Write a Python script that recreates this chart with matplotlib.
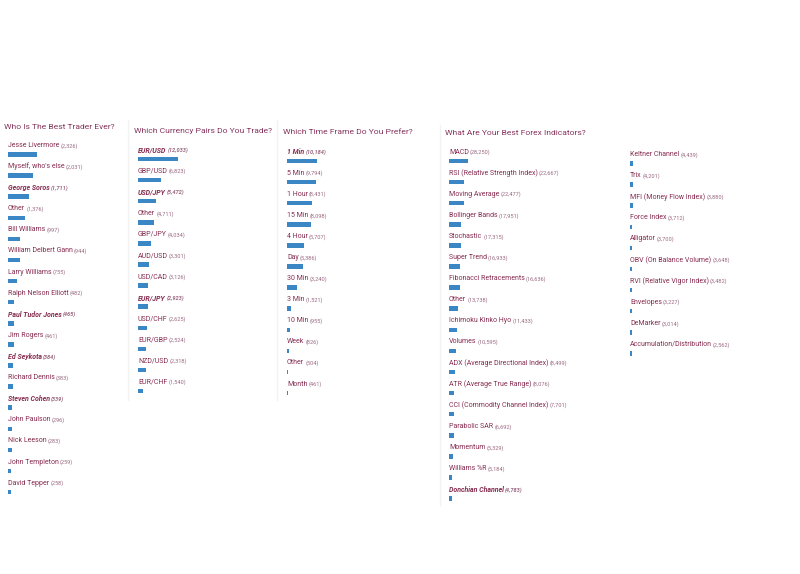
import matplotlib.pyplot as plt

plt.rcParams['font.family'] = ['Roboto', 'DejaVu Sans']

# poll data
trader_names = ["Jesse Livermore", "Myself, who's else", "George Soros", "Other",
                "Bill Williams", "William Delbert Gann", "Larry Williams",
                "Ralph Nelson Elliott", "Paul Tudor Jones", "Jim Rogers", "Ed Seykota",
                "Richard Dennis", "Steven Cohen", "John Paulson", "Nick Leeson",
                "John Templeton", "David Tepper"]
trader_votes = [2326, 2031, 1711, 1376, 997, 944, 755, 482, 465, 461, 384, 383,
                339, 296, 283, 259, 258]
trader_bold = ["George Soros", "Paul Tudor Jones", "Ed Seykota", "Steven Cohen"]

pair_names = ["EUR/USD", "GBP/USD", "USD/JPY", "Other", "GBP/JPY", "AUD/USD",
              "USD/CAD", "EUR/JPY", "USD/CHF", "EUR/GBP", "NZD/USD", "EUR/CHF"]
pair_votes = [12033, 6823, 5472, 4711, 4034, 3301, 3126, 2923, 2625, 2524, 2318, 1540]
pair_bold = ["EUR/USD", "USD/JPY", "EUR/JPY"]

tf_names = ["1 Min", "5 Min", "1 Hour", "15 Min", "4 Hour", "Day", "30 Min",
            "3 Min", "10 Min", "Week", "Other", "Month"]
tf_votes = [10184, 9794, 8431, 8098, 5707, 5386, 3240, 1521, 955, 826, 504, 461]
tf_bold = ["1 Min"]

ind_names = ["MACD", "RSI (Relative Strength Index)", "Moving Average",
             "Bollinger Bands", "Stochastic", "Super Trend", "Fibonacci Retracements",
             "Other", "Ichimoku Kinko Hyo", "Volumes", "ADX (Average Directional Index)",
             "ATR (Average True Range)", "CCI (Commodity Channel Index)",
             "Parabolic SAR", "Momentum", "Williams %R", "Donchian Channel",
             "Keltner Channel", "Trix", "MFI (Money Flow Index)", "Force Index",
             "Alligator", "OBV (On Balance Volume)", "RVI (Relative Vigor Index)",
             "Envelopes", "DeMarker", "Accumulation/Distribution"]
ind_votes = [28250, 22667, 22477, 17951, 17315, 16933, 16636, 13738, 11433, 10595,
             8499, 8076, 7701, 6692, 5329, 5184, 4783, 4439, 4201, 3880, 3712, 3700,
             3648, 3482, 3227, 3014, 2562]
ind_bold = ["Donchian Channel"]

TITLE_C = '#86365e'
LABEL_C = '#862d50'
COUNT_C = '#9a6a82'
BAR_C = '#3b87c5'

fig = plt.figure(figsize=(8, 5.74), dpi=100)
ax = fig.add_axes([0, 0, 1, 1])
ax.set_xlim(0, 800)
ax.set_ylim(574, 0)
ax.axis('off')


def poll(names, votes, bold, x, y0, px_per_vote, step=21.1):
    ys = [y0 + i * step for i in range(len(names))]
    for name, v, y in zip(names, votes, ys):
        b = name in bold
        kw = dict(fontweight='bold' if b else 'normal',
                  fontstyle='italic' if b else 'normal')
        t = ax.text(x, y, name, fontsize=5.0, color=LABEL_C, va='center', **kw)
        ax.annotate(f"({v:,})", xy=(1, 0.45), xycoords=t, xytext=(0.8, 0),
                    textcoords='offset points', fontsize=4.1, color=COUNT_C,
                    va='center', **kw)
    ax.barh([y + 9 for y in ys], [v * px_per_vote for v in votes], left=x,
            height=4.5, color=BAR_C)


ax.text(4, 127, "Who Is The Best Trader Ever?", fontsize=6.1, color=TITLE_C, va='center')
poll(trader_names, trader_votes, trader_bold, 8, 145.5, 29 / 2326)

ax.text(134, 131, "Which Currency Pairs Do You Trade?", fontsize=6.1, color=TITLE_C, va='center')
poll(pair_names, pair_votes, pair_bold, 138, 150, 40 / 12033)

ax.text(283, 132, "Which Time Frame Do You Prefer?", fontsize=6.1, color=TITLE_C, va='center')
poll(tf_names, tf_votes, tf_bold, 287, 152, 30 / 10184)

ax.text(445, 133, "What Are Your Best Forex Indicators?", fontsize=6.1, color=TITLE_C, va='center')
poll(ind_names[:17], ind_votes[:17], ind_bold, 449, 152, 19 / 28250)
poll(ind_names[17:], ind_votes[17:], ind_bold, 630, 154.5, 19 / 28250)

# faint column separators
for xs, ya, yb in [(128, 120, 400), (277, 120, 400), (440, 125, 505)]:
    ax.plot([xs, xs], [ya, yb], color='#f3f3f3', lw=1)

fig.savefig('out.png', dpi=100)
